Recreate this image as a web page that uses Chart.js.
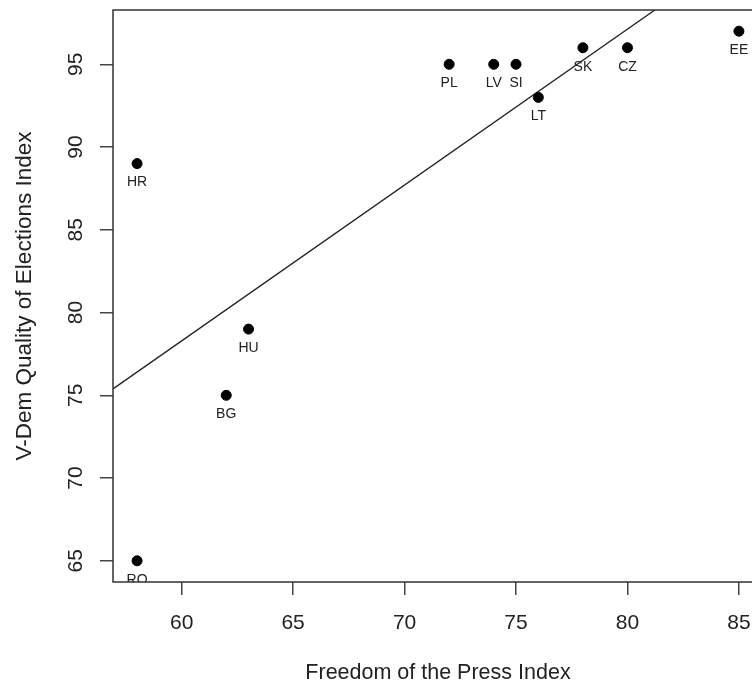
<!DOCTYPE html>
<html>
<head>
<meta charset="utf-8">
<script src="https://cdn.jsdelivr.net/npm/chart.js@4.4.1/dist/chart.umd.min.js"></script>
<style>
  html, body { margin: 0; padding: 0; overflow: hidden; background: #fff; }
</style>
</head>
<body>
<canvas id="myChart" width="776" height="686"></canvas>
<script>
// data
const countries = ['HR', 'RO', 'BG', 'HU', 'PL', 'LV', 'SI', 'LT', 'SK', 'CZ', 'EE'];
const pressFreedom = [58, 58, 62, 63, 72, 74, 75, 76, 78, 80, 85];
const electionQuality = [89, 65, 75, 79, 95, 95, 95, 93, 96, 96, 97];
const xTicks = [60, 65, 70, 75, 80, 85];
const yTicks = [65, 70, 75, 80, 85, 90, 95];
// ends of the trend line, at the left and right edges of the plot
const fitX = [56.92, 86.08];
const fitY = [75.39, 102.85];

// R style axis limits: data range padded by 4%
function padRange(arr) {
    const lo = Math.min(...arr), hi = Math.max(...arr);
    const d = (hi - lo) * 0.04;
    return [lo - d, hi + d];
}
const [xMin, xMax] = padRange(pressFreedom);
const [yMin, yMax] = padRange(electionQuality);

const FONT = '"Liberation Sans", Arial, Helvetica, sans-serif';
const TEXT = '#222';

const boxPlugin = {
    id: 'box',
    afterDraw(chart) {
        const { ctx, chartArea: a } = chart;
        ctx.save();
        ctx.strokeStyle = '#333';
        ctx.lineWidth = 1.5;
        ctx.strokeRect(a.left, a.top, a.right - a.left, a.bottom - a.top);
        ctx.restore();
    }
};

const pointLabels = {
    id: 'pointLabels',
    afterDatasetsDraw(chart) {
        const { ctx, chartArea: a } = chart;
        const meta = chart.getDatasetMeta(0);
        ctx.save();
        ctx.beginPath();
        ctx.rect(a.left, a.top, a.right - a.left, a.bottom - a.top);
        ctx.clip();
        ctx.font = '14px ' + FONT;
        ctx.fillStyle = TEXT;
        ctx.textAlign = 'center';
        ctx.textBaseline = 'middle';
        meta.data.forEach((pt, i) => {
            ctx.fillText(countries[i], pt.x, pt.y + 19);
        });
        ctx.restore();
    }
};

const ctx = document.getElementById('myChart').getContext('2d');
new Chart(ctx, {
    type: 'scatter',
    data: {
        datasets: [{
            label: 'Countries',
            data: pressFreedom.map((x, i) => ({ x: x, y: electionQuality[i] })),
            backgroundColor: '#000',
            borderColor: '#000',
            pointRadius: 5,
            pointHoverRadius: 5,
            order: 1
        }, {
            type: 'line',
            label: 'Fit',
            data: fitX.map((x, i) => ({ x: x, y: fitY[i] })),
            borderColor: '#222',
            borderWidth: 1.3,
            pointRadius: 0,
            fill: false,
            order: 2
        }]
    },
    options: {
        responsive: false,
        animation: false,
        layout: { padding: { top: 10, right: 13, left: 0, bottom: 0 } },
        plugins: {
            legend: { display: false },
            tooltip: { enabled: false }
        },
        scales: {
            x: {
                type: 'linear',
                position: 'bottom',
                min: xMin,
                max: xMax,
                afterBuildTicks: s => { s.ticks = xTicks.map(v => ({ value: v })); },
                afterFit: s => { s.height = 104; s.paddingLeft = 0; s.paddingRight = 0; },
                border: { display: false },
                grid: { drawOnChartArea: false, tickLength: 13, color: '#444', lineWidth: 1.5 },
                ticks: { font: { family: FONT, size: 21 }, color: TEXT, padding: 16, maxRotation: 0 },
                title: {
                    display: true,
                    text: 'Freedom of the Press Index',
                    font: { family: FONT, size: 21.5 },
                    color: TEXT,
                    padding: { top: 0, bottom: 0 }
                }
            },
            y: {
                type: 'linear',
                min: yMin,
                max: yMax,
                afterBuildTicks: s => { s.ticks = yTicks.map(v => ({ value: v })); },
                afterFit: s => { s.width = 113; s.paddingTop = 0; s.paddingBottom = 0; },
                border: { display: false },
                grid: { drawOnChartArea: false, tickLength: 13, color: '#444', lineWidth: 1.5 },
                ticks: {
                    font: { family: FONT, size: 21 },
                    color: TEXT,
                    padding: 12,
                    minRotation: 90,
                    maxRotation: 90,
                    crossAlign: 'center'
                },
                title: {
                    display: true,
                    text: 'V-Dem Quality of Elections Index',
                    font: { family: FONT, size: 22.5 },
                    color: TEXT,
                    padding: { top: 11, bottom: 0 }
                }
            }
        }
    },
    plugins: [boxPlugin, pointLabels]
});
</script>
</body>
</html>
